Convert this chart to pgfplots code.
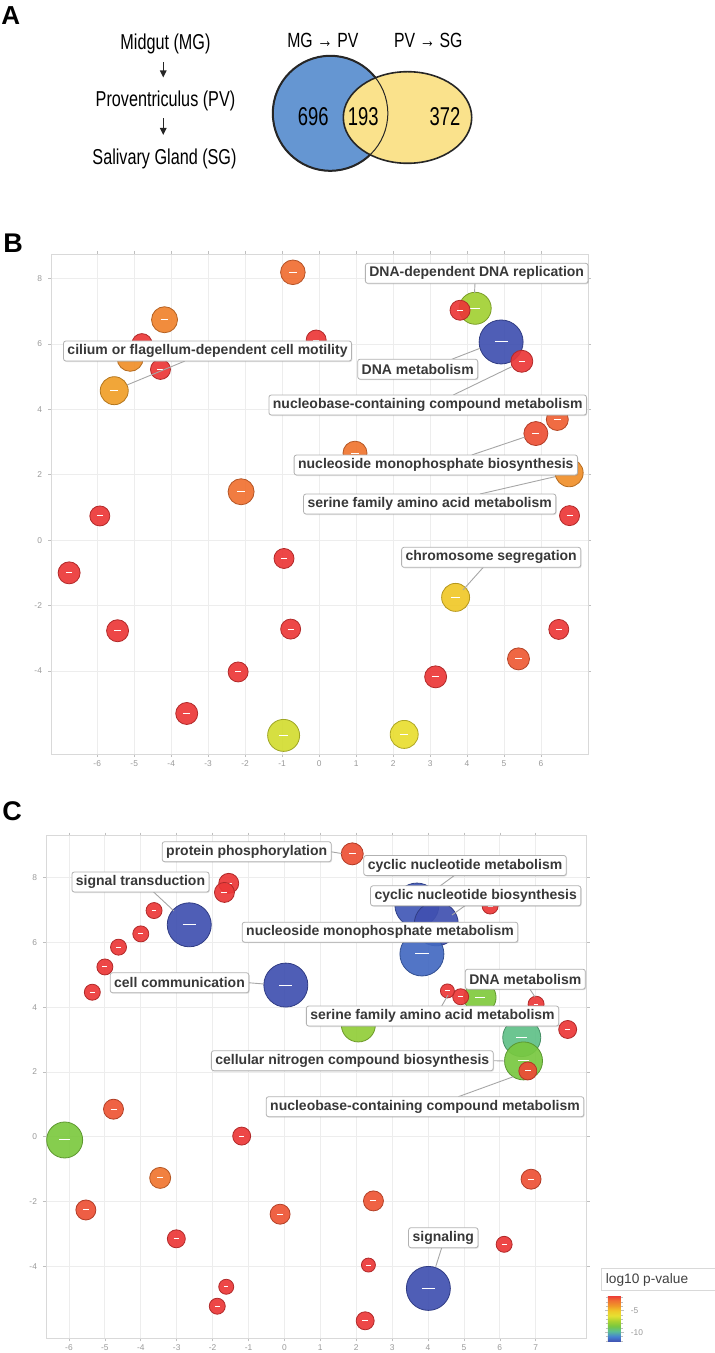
\documentclass[border=0pt]{standalone}
\usepackage{fontspec}
\setmainfont{Liberation Sans}
\usepackage{graphicx}
\usepackage{pgfplots}
\pgfplotsset{compat=1.18}
\usepackage{pgfplotstable}
\usetikzlibrary{arrows.meta,shadows}

\pgfdeclareplotmark{bub}{%
  \pgfpathcircle{\pgfpointorigin}{\pgfplotmarksize}%
  \pgfusepathqfillstroke
  \pgfscope
  \pgfsetstrokecolor{white}%
  \pgfsetlinewidth{0.5pt}%
  \pgfpathmoveto{\pgfqpoint{-0.3\pgfplotmarksize}{0pt}}%
  \pgfpathlineto{\pgfqpoint{0.3\pgfplotmarksize}{0pt}}%
  \pgfusepathqstroke
  \endpgfscope
}

\pgfplotsset{
  colormap={revigo}{rgb255=(64,80,176) rgb255=(70,130,210) rgb255=(90,190,150) rgb255=(120,200,64) rgb255=(170,210,48) rgb255=(230,225,50) rgb255=(240,200,40) rgb255=(240,150,40) rgb255=(240,110,50) rgb255=(235,50,55)},
  bubax/.style={colormap name=revigo, scale only axis, anchor=north west,
    point meta min=-12.2, point meta max=-1.4,
    axis line style={draw=black!15}, grid=major, grid style={black!7, line width=0.4pt},
    tick style={black!25, line width=0.3pt}, tick align=outside, major tick length=1.5pt,
    tick label style={font=\fontsize{4.2}{5}\selectfont, text=black!40},
    xticklabel style={yshift=1.8pt}, yticklabel style={xshift=0.5pt},
    /pgf/number format/assume math mode=true, clip=false},
  bubplot/.style={scatter, only marks, mark=bub, scatter src=explicit,
    scatter/use mapped color={draw=mapped color!75!black, fill=mapped color, fill opacity=0.92, line width=0.4pt},
    visualization depends on={0.5*\thisrow{r}\as\rad},
    scatter/@pre marker code/.append style={/tikz/mark size=\rad}},
}
\tikzset{
  lab/.style={draw=black!30, fill=white, rounded corners=1.2pt, inner xsep=2pt, inner ysep=0pt, minimum height=10pt,
    font=\bfseries\fontsize{7}{8}\selectfont, text=black!78,
    drop shadow={opacity=0.25, shadow xshift=0.4pt, shadow yshift=-0.5pt}},
  lead/.style={black!35, line width=0.45pt},
}

\pgfplotstableread{
x y r p
4.92 6.06 22 -12.2
4.22 7.09 16 -7.6
-0.96 -5.97 16 -6.6
3.69 -1.75 14 -5.0
2.30 -5.94 14 -6.0
-5.54 4.57 14 -4.0
6.76 2.06 14 -3.6
-4.79 6.01 10 -1.5
-5.11 5.56 13 -3.6
-4.18 6.74 13 -3.2
-0.71 8.19 12.3 -2.6
-2.11 1.48 13 -2.7
0.97 2.66 12 -2.8
5.86 3.26 12 -2.0
6.44 3.69 11 -2.3
5.39 -3.63 11 -2.2
-4.29 5.22 10 -1.5
-0.08 6.12 10 -1.5
3.81 7.03 10 -1.5
5.48 5.47 11 -1.5
-5.93 0.74 10 -1.5
-6.76 -1.00 11 -1.5
-0.95 -0.56 10 -1.5
-5.45 -2.77 11 -1.5
-0.77 -2.72 10 -1.5
-2.19 -4.03 10 -1.5
6.77 0.75 10 -1.5
6.48 -2.73 10 -1.5
3.15 -4.18 11 -1.5
-3.58 -5.30 11 -1.5
}\Bdata

\pgfplotstableread{
x y r p
-2.65 6.54 22 -12.2
0.04 4.68 22 -12.2
3.69 7.15 22 -12.0
4.23 6.57 22 -12.2
3.83 5.64 22 -11.6
4.01 -4.68 22 -12.2
-6.12 -0.10 18 -8.5
6.61 3.06 19 -9.6
6.66 2.34 19 -8.6
5.45 4.30 16 -8.4
2.06 3.45 17 -8.0
-3.46 -1.27 10.5 -2.8
1.89 8.73 11 -2.0
-4.76 0.85 10 -2.1
-5.53 -2.26 10 -2.0
-0.12 -2.39 10 -2.1
2.48 -1.98 10 -2.1
6.87 -1.31 10 -2.0
6.78 2.03 9 -1.9
-1.55 7.82 10 -1.5
-1.67 7.54 10 -1.5
-3.63 6.98 8 -1.5
-4.00 6.26 8 -1.5
-4.62 5.85 8 -1.5
-5.00 5.24 8 -1.5
-5.35 4.46 8 -1.5
-1.19 0.02 9 -1.5
-3.01 -3.15 9 -1.5
-1.62 -4.63 7.5 -1.5
-1.87 -5.23 8 -1.5
2.25 -5.68 9 -1.5
2.34 -3.96 7 -1.5
6.12 -3.32 8 -1.5
7.89 3.31 9 -1.5
7.01 4.09 8 -1.5
4.91 4.32 8 -1.5
4.54 4.50 7 -1.5
5.73 7.12 8 -1.5
}\Cdata

\begin{document}
\begin{tikzpicture}
\path[use as bounding box] (0,0) rectangle (357pt,-676.5pt);

% Panel B
\begin{axis}[bubax, at={(25.5pt,-127pt)}, width=268.5pt, height=250pt,
  xmin=-7.25, xmax=7.27, ymin=-6.54, ymax=8.75,
  xtick={-6,...,6}, ytick={-4,-2,...,8}]
\addplot[bubplot] table[x=x,y=y,meta=p]{\Bdata};
\end{axis}

% Panel C
\begin{axis}[bubax, at={(23pt,-417.85pt)}, width=270.35pt, height=251.3pt,
  xmin=-6.64, xmax=8.42, ymin=-6.22, ymax=9.29,
  xtick={-6,...,7}, ytick={-4,-2,...,8},
  colorbar,
  colorbar style={at={(parent axis.south east)}, anchor=south west, xshift=2pt, yshift=-1.7pt,
    scale only axis, width=6.5pt, height=23.3pt,
    axis line style={draw=none},
    ytick={-10,-5}, minor ytick={-12,-11,...,-2},
    yticklabel pos=right,
    tick align=outside, major tick length=1.5pt, minor tick length=1pt,
    tick style={black!25, line width=0.3pt},
    yticklabel style={font=\fontsize{4.2}{5}\selectfont, text=black!40},
    /pgf/number format/assume math mode=true}]
\addplot[bubplot] table[x=x,y=y,meta=p]{\Cdata};
\end{axis}

\begin{scope}[x=0.5pt,y=-0.5pt]
% panel letters
\node[anchor=base west, font=\bfseries\fontsize{13}{15}\selectfont, inner sep=0pt] at (1,25) {A};
\node[anchor=base west, font=\bfseries\fontsize{13.5}{15}\selectfont, inner sep=0pt] at (3,253) {B};
\node[anchor=base west, font=\bfseries\fontsize{13.5}{15}\selectfont, inner sep=0pt] at (2,820) {C};

% Panel A flow
\node[anchor=base, inner sep=0pt] at (165.5,50) {\scalebox{1}[1.33]{\fontsize{8.1}{9}\selectfont Midgut (MG)}};
\node[anchor=base, inner sep=0pt] at (165.5,106.7) {\scalebox{1}[1.33]{\fontsize{8.1}{9}\selectfont Proventriculus (PV)}};
\node[anchor=base, inner sep=0pt] at (164.5,165) {\scalebox{1}[1.33]{\fontsize{8.1}{9}\selectfont Salivary Gland (SG)}};
\draw[line width=0.75pt, black!85, -{Triangle[length=3.5pt,width=3.2pt]}] (163.3,62.5) -- (163.3,77.5);
\draw[line width=0.75pt, black!85, -{Triangle[length=3.5pt,width=3.2pt]}] (163.3,118.5) -- (163.3,135);

% Venn
\node[anchor=base, inner sep=0pt] at (322.8,47.7) {\scalebox{1}[1.3]{\fontsize{7.9}{9}\selectfont MG → PV}};
\node[anchor=base, inner sep=0pt] at (428.3,47.7) {\scalebox{1}[1.3]{\fontsize{7.9}{9}\selectfont PV → SG}};
\definecolor{vblue}{RGB}{101,150,210}
\definecolor{vyel}{RGB}{250,226,140}
\fill[vblue] (330.3,113.3) circle[radius=57.5];
\draw[line width=1pt, black!85] (330.3,113.3) circle[radius=57.5];
\fill[vyel] (407.5,117.5) ellipse[x radius=64.2, y radius=45.8];
\draw[line width=0.8pt, black!85] (407.5,117.5) ellipse[x radius=64.2, y radius=45.8];
\draw[line width=0.5pt, black!85] (330.3,113.3) circle[radius=57.5];
\node[anchor=base, inner sep=0pt] at (313.3,126) {\scalebox{1}[1.4]{\fontsize{9.2}{10}\selectfont 696}};
\node[anchor=base, inner sep=0pt] at (363.3,126) {\scalebox{1}[1.4]{\fontsize{9.2}{10}\selectfont 193}};
\node[anchor=base, inner sep=0pt] at (445,126) {\scalebox{1}[1.4]{\fontsize{9.2}{10}\selectfont 372}};

% Panel B labels
\draw[lead] (185,361) -- (127,385);
\node[lab] at (207.5,351) {cilium or flagellum-dependent cell motility};
\draw[lead] (475,283.3) -- (474.5,293);
\node[lab] at (476.7,273.3) {DNA-dependent DNA replication};
\draw[lead] (451.7,359.3) -- (480,348.3);
\node[lab] at (417.7,369.2) {DNA metabolism};
\draw[lead] (453.3,395) -- (511.7,366.7);
\node[lab] at (427.7,405) {nucleobase-containing compound metabolism};
\draw[lead] (471.7,455) -- (525,437);
\node[lab] at (435.8,465) {nucleoside monophosphate biosynthesis};
\draw[lead] (480,494) -- (555,476.7);
\node[lab] at (429.7,504) {serine family amino acid metabolism};
\draw[lead] (483.3,567.3) -- (463,590);
\node[lab] at (491.2,557.3) {chromosome segregation};

% Panel C labels
\draw[lead] (330.7,851.7) -- (341.5,853.5);
\node[lab] at (246.7,851.7) {protein phosphorylation};
\draw[lead] (153.3,891.7) -- (174,911);
\node[lab] at (140.5,882) {signal transduction};
\draw[lead] (455,875) -- (440,886);
\node[lab] at (465,865.5) {cyclic nucleotide metabolism};
\draw[lead] (465,905.7) -- (452,915);
\node[lab] at (475.7,895.8) {cyclic nucleotide biosynthesis};
\node[lab] at (380,932.2) {nucleoside monophosphate metabolism};
\draw[lead] (248.3,982.7) -- (264,984);
\node[lab] at (179.5,982.7) {cell communication};
\draw[lead] (530,989.3) -- (535,997);
\node[lab] at (525.3,979.2) {DNA metabolism};
\draw[lead] (441.7,1006) -- (448,995);
\node[lab] at (432.5,1016) {serine family amino acid metabolism};
\draw[lead] (494,1060.7) -- (505,1061);
\node[lab] at (352.3,1060.7) {cellular nitrogen compound biosynthesis};
\draw[lead] (458.3,1096.7) -- (513.3,1076.7);
\node[lab] at (425,1106.7) {nucleobase-containing compound metabolism};
\draw[lead] (441.7,1247.7) -- (435.7,1266.7);
\node[lab] at (443.3,1237.7) {signaling};

% colour legend title
\draw[black!15, fill=white] (601.7,1268.3) rectangle (740,1290);
\node[anchor=west, inner sep=0pt, font=\fontsize{6.85}{8}\selectfont, text=black!75] at (605.5,1279.5) {log10 p-value};
\end{scope}
\end{tikzpicture}
\end{document}
